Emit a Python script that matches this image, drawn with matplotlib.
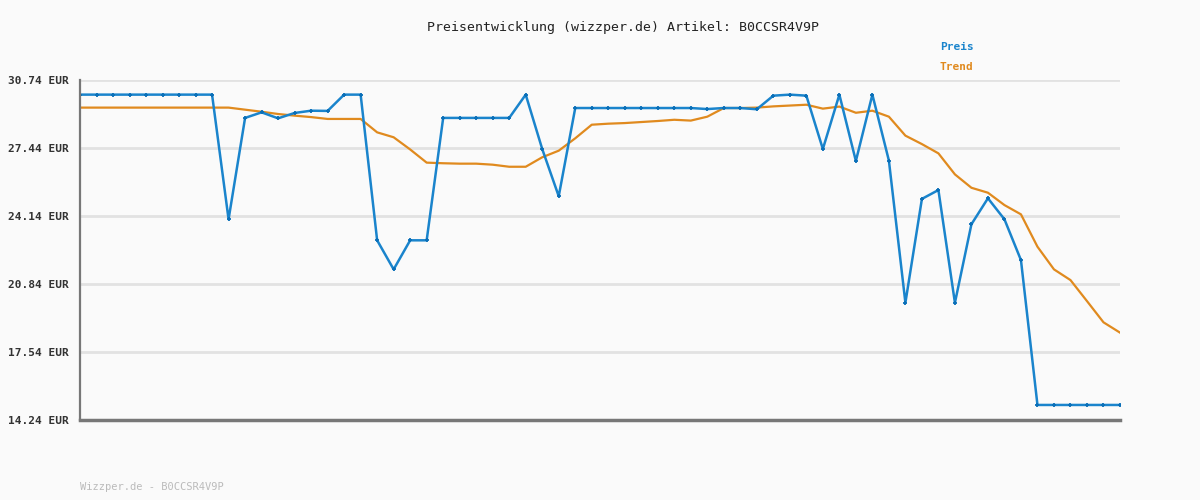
import numpy as np
import matplotlib.pyplot as plt

title = "Preisentwicklung (wizzper.de) Artikel: B0CCSR4V9P"
footer = "Wizzper.de - B0CCSR4V9P"
yticks = [14.24, 17.54, 20.84, 24.14, 27.44, 30.74]

preis = [30.03] * 9 + [
    23.98, 28.90, 29.17, 28.88, 29.14, 29.25, 29.24, 30.03, 30.03,
    22.96, 21.55, 22.96, 22.96, 28.90, 28.90, 28.90, 28.90, 28.90,
    30.03, 27.39, 25.10, 29.38, 29.38, 29.38, 29.38, 29.38, 29.38,
    29.38, 29.38, 29.33, 29.38, 29.38, 29.32, 29.98, 30.03, 29.98,
    27.39, 30.03, 26.81, 30.03, 26.83, 19.93, 24.97, 25.40, 19.93,
    23.74, 25.00, 23.98, 22.00, 14.97, 14.97, 14.97, 14.97, 14.97, 14.97,
]
trend = [29.40] * 10 + [
    29.30, 29.20, 29.09, 29.01, 28.94, 28.85, 28.85, 28.85, 28.20,
    27.96, 27.37, 26.73, 26.70, 26.68, 26.68, 26.63, 26.53, 26.53,
    26.99, 27.31, 27.91, 28.57, 28.62, 28.65, 28.70, 28.75, 28.81,
    28.77, 28.96, 29.38, 29.38, 29.40, 29.46, 29.50, 29.54, 29.35,
    29.45, 29.15, 29.25, 28.96, 28.04, 27.63, 27.18, 26.16, 25.51,
    25.27, 24.67, 24.22, 22.65, 21.55, 21.03, 20.01, 18.98, 18.48,
]
x = np.arange(len(preis))

blue = "#1a84cc"
orange = "#e08a1e"
mono = "DejaVu Sans Mono"

fig = plt.figure(figsize=(12, 5), dpi=100, facecolor="#fafafa")
ax = fig.add_axes([80 / 1200, 80 / 500, 1040 / 1200, 340 / 500])
ax.set_facecolor("#fafafa")

ax.plot(x, trend, color=orange, lw=1.6, zorder=3)
ax.plot(x, preis, color=blue, lw=1.8, marker="+", ms=3.5, mew=1.3,
        mec="#0a6fb8", zorder=4)

ax.set_xlim(0, len(preis) - 1)
ax.set_ylim(yticks[0], yticks[-1])
ax.set_yticks(yticks)
ax.set_yticklabels([f"{v:.2f} EUR" for v in yticks], fontfamily=mono,
                   fontweight="bold", fontsize=8, color="#333333")
ax.set_xticks([])
ax.tick_params(axis="y", length=0, pad=8)
ax.grid(axis="y", color="#e2e2e2", lw=2)
ax.set_axisbelow(True)
for s in ["top", "right"]:
    ax.spines[s].set_visible(False)
ax.spines["left"].set_color("#777777")
ax.spines["left"].set_linewidth(1.6)
ax.spines["bottom"].set_color("#777777")
ax.spines["bottom"].set_linewidth(2.5)
ax.spines["left"].set_zorder(5)
ax.spines["bottom"].set_zorder(5)

fig.text(623 / 1200, 1 - 28 / 500, title, ha="center", va="center",
         fontfamily=mono, fontsize=9.5, color="#222222")
fig.text(940 / 1200, 1 - 47 / 500, "Preis", ha="left", va="center",
         fontfamily=mono, fontsize=8, fontweight="bold", color=blue)
fig.text(940 / 1200, 1 - 67 / 500, "Trend", ha="left", va="center",
         fontfamily=mono, fontsize=8, fontweight="bold", color=orange)
fig.text(80 / 1200, 1 - 487 / 500, footer, ha="left", va="center",
         fontfamily=mono, fontsize=7.5, color="#bbbbbb")

fig.savefig("out.png", dpi=100, facecolor=fig.get_facecolor())
